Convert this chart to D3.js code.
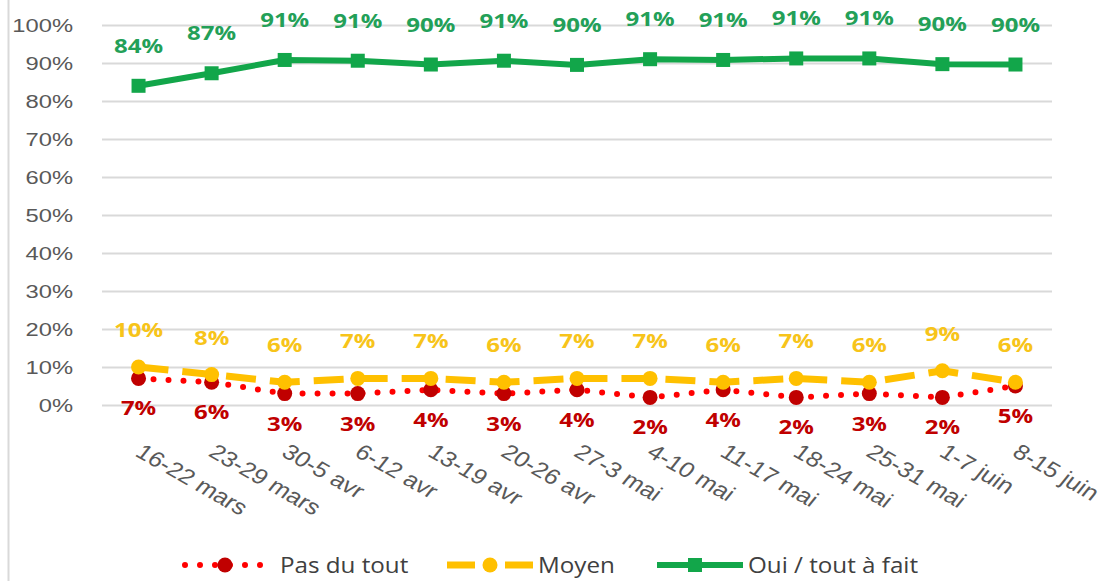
<!DOCTYPE html>
<html>
<head>
<meta charset="utf-8">
<script src="https://cdn.jsdelivr.net/npm/d3@7"></script>
<style>
  html, body { margin: 0; padding: 0; background: #fff; }
  svg { display: block; font-family: "Open Sans", sans-serif; }
</style>
</head>
<body>
<svg id="chart" width="1109" height="581"></svg>
<script>
const categories = ["16-22 mars","23-29 mars","30-5 avr","6-12 avr","13-19 avr","20-26 avr","27-3 mai","4-10 mai","11-17 mai","18-24 mai","25-31 mai","1-7 juin","8-15 juin"];
const ouiValues   = [0.84, 0.873, 0.908, 0.906, 0.896, 0.906, 0.895, 0.91, 0.908, 0.912, 0.912, 0.897, 0.896];
const moyenValues = [0.10, 0.08, 0.06, 0.07, 0.07, 0.06, 0.07, 0.07, 0.06, 0.07, 0.06, 0.09, 0.06];
const pasValues   = [0.07, 0.06, 0.03, 0.03, 0.04, 0.03, 0.04, 0.02, 0.04, 0.02, 0.03, 0.02, 0.05];
const yTicks = [0, 0.1, 0.2, 0.3, 0.4, 0.5, 0.6, 0.7, 0.8, 0.9, 1.0];
const legendLabels = ["Pas du tout", "Moyen", "Oui / tout à fait"];

const svg = d3.select("#chart");
const fmt = d3.format(".0%");

const x = d3.scalePoint().domain(categories).range([102, 1052]).padding(0.5);
const y = d3.scaleLinear().domain([0, 1]).range([405, 25]);

// left frame line
svg.append("line").attr("x1", 8.5).attr("x2", 8.5).attr("y1", 0).attr("y2", 581)
  .attr("stroke", "#d9d9d9").attr("stroke-width", 2);

// y axis / gridlines
const yAxis = svg.append("g").attr("transform", "translate(102,0)")
  .call(d3.axisLeft(y).tickValues(yTicks).tickFormat(fmt).tickSize(-950).tickPadding(0));
yAxis.select(".domain").remove();
yAxis.selectAll(".tick line").attr("stroke", "#d9d9d9").attr("stroke-width", 2);
yAxis.selectAll(".tick text")
  .attr("x", 0).attr("dy", "0.35em")
  .attr("transform", "translate(-29,0) scale(1.32,1)")
  .attr("fill", "#595959").attr("font-size", 18);

// x axis labels
const xAxis = svg.append("g").attr("transform", "translate(0,405)")
  .call(d3.axisBottom(x).tickSize(0).tickPadding(0));
xAxis.select(".domain").remove();
xAxis.selectAll(".tick text")
  .attr("x", 0).attr("y", 0).attr("dy", "0.35em")
  .attr("text-anchor", "start")
  .attr("transform", "translate(0,44) scale(1.18,1) rotate(34)")
  .attr("fill", "#595959").attr("font-size", 21.5);

const line = d3.line().x((d, i) => x(categories[i])).y(d => y(d));

const series = [
  { name: legendLabels[0], values: pasValues, line: "#ff0000", marker: "#c00000", label: "#c00000",
    width: 6, dash: "0,15", cap: "round", shape: "circle", offset: 30 },
  { name: legendLabels[1], values: moyenValues, line: "#ffc000", marker: "#ffc000", label: "#f7c41a",
    width: 7, dash: "30,14", cap: "butt", shape: "circle", offset: -37 },
  { name: legendLabels[2], values: ouiValues, line: "#12a64a", marker: "#12a64a", label: "#23a058",
    width: 6, dash: null, cap: "butt", shape: "square", offset: -40 }
];

series.forEach(s => {
  const g = svg.append("g");
  g.append("path").datum(s.values).attr("d", line)
    .attr("fill", "none").attr("stroke", s.line).attr("stroke-width", s.width)
    .attr("stroke-linecap", s.cap).attr("stroke-linejoin", "round")
    .attr("stroke-dasharray", s.dash);
  if (s.shape === "circle") {
    g.selectAll("circle").data(s.values).join("circle")
      .attr("cx", (d, i) => x(categories[i])).attr("cy", d => y(d)).attr("r", 7.5)
      .attr("fill", s.marker);
  } else {
    g.selectAll("rect").data(s.values).join("rect")
      .attr("x", (d, i) => x(categories[i]) - 7).attr("y", d => y(d) - 7)
      .attr("width", 14).attr("height", 14).attr("fill", s.marker);
  }
  g.selectAll("text").data(s.values).join("text")
    .attr("transform", (d, i) => `translate(${x(categories[i])},${y(d) + s.offset}) scale(1.2,1)`)
    .attr("text-anchor", "middle").attr("dy", "0.35em")
    .attr("font-size", 20).attr("font-weight", "bold").attr("fill", s.label)
    .text(d => fmt(Math.round(d * 100) / 100));
});

// legend
const legendItems = [
  { s: series[0], x0: 185, x1: 272, mx: 225, tx: 280 },
  { s: series[1], x0: 447, x1: 533, mx: 490, tx: 538 },
  { s: series[2], x0: 657, x1: 743, mx: 695, tx: 748 }
];
const ly = 565;
legendItems.forEach((it, k) => {
  const s = it.s;
  const g = svg.append("g");
  if (k === 1) {
    [[it.x0, it.x0 + 28], [it.x1 - 28, it.x1]].forEach(([a, b]) =>
      g.append("line").attr("x1", a).attr("x2", b).attr("y1", ly).attr("y2", ly)
        .attr("stroke", s.line).attr("stroke-width", s.width));
  } else {
    g.append("line").attr("x1", it.x0).attr("x2", it.x1).attr("y1", ly).attr("y2", ly)
      .attr("stroke", s.line).attr("stroke-width", s.width)
      .attr("stroke-linecap", s.cap).attr("stroke-dasharray", s.dash);
  }
  if (s.shape === "circle") {
    g.append("circle").attr("cx", it.mx).attr("cy", ly).attr("r", 7.5).attr("fill", s.marker);
  } else {
    g.append("rect").attr("x", it.mx - 7).attr("y", ly - 7).attr("width", 14).attr("height", 14).attr("fill", s.marker);
  }
  g.append("text").attr("transform", `translate(${it.tx},${ly}) scale(1.1,1)`)
    .attr("dy", "0.35em").attr("font-size", 22).attr("fill", "#404040").text(s.name);
});
</script>
</body>
</html>
